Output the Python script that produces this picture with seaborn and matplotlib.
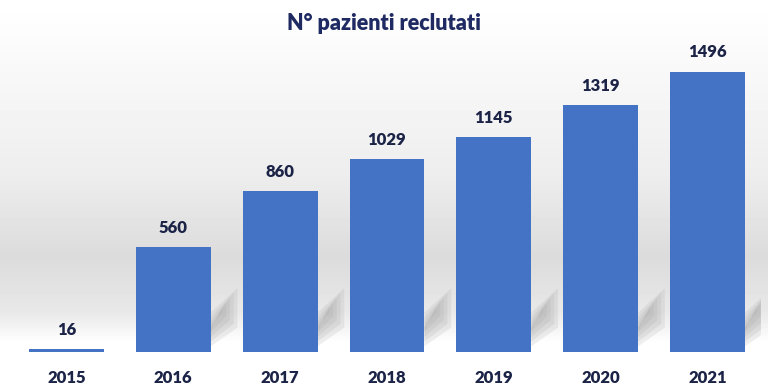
import numpy as np
import pandas as pd
import matplotlib
matplotlib.use("Agg")
import matplotlib.pyplot as plt
from matplotlib.patches import Polygon
import seaborn as sns

# data
years = ["2015", "2016", "2017", "2018", "2019", "2020", "2021"]
patients = [16, 560, 860, 1029, 1145, 1319, 1496]

df = pd.DataFrame({"anno": years, "pazienti": patients})

sns.set_style("white")
plt.rcParams["font.family"] = ["Lato", "DejaVu Sans"]

fig = plt.figure(figsize=(7.68, 3.9), dpi=100)

# soft grey backdrop, white at top and bottom
bg = fig.add_axes([0, 0, 1, 1], zorder=0)
rows = np.linspace(0, 1, 390)
shade = np.interp(rows, [0.0, 0.08, 0.45, 0.66, 0.80, 0.88, 1.0],
                  [1.0, 0.99, 0.93, 0.86, 0.91, 1.0, 1.0])
bg.imshow(np.tile(shade[:, None], (1, 10)), cmap="gray", vmin=0, vmax=1,
          aspect="auto", extent=[0, 1, 0, 1], origin="upper")
bg.axis("off")

ax = fig.add_axes([0.0169, 0.0974, 0.974, 0.80], zorder=1)
ax.patch.set_alpha(0)
sns.barplot(data=df, x="anno", y="pazienti", color="#4472C4", width=0.7,
            saturation=1, linewidth=0, ax=ax)
bars = list(ax.patches)

# soft shadow cast to the right of each bar (stacked layers fake a blur)
for p in bars:
    if p.get_height() < 200:
        continue
    xr = p.get_x() + p.get_width()
    for k in range(5):
        s = k * 0.035
        ax.add_patch(Polygon([(xr, 30 + k * 25), (xr, 210 - k * 25),
                              (xr + 0.25 - s, 340 - k * 25), (xr + 0.25 - s, 130 + k * 20)],
                             closed=True, facecolor="#a0a0a0", edgecolor="none",
                             alpha=0.17, zorder=0))

for p, v in zip(bars, patients):
    ax.annotate(str(v), (p.get_x() + p.get_width() / 2, p.get_height()),
                xytext=(0, 8), textcoords="offset points", ha="center",
                va="bottom", fontsize=12, fontweight="heavy", color="#1B2346")

ax.set_ylim(0, 1664)
ax.set_xlabel("")
ax.set_ylabel("")
ax.set_yticks([])
ax.tick_params(axis="x", length=0, pad=13)
for lbl in ax.get_xticklabels():
    lbl.set_fontsize(12)
    lbl.set_fontweight("heavy")
    lbl.set_color("#1B2346")
sns.despine(ax=ax, left=True, bottom=True)

fig.text(0.5, 0.94, "N° pazienti reclutati", ha="center", va="center",
         fontsize=15.5, fontweight="heavy", color="#1F2A63")

fig.savefig("out.png", dpi=100)
